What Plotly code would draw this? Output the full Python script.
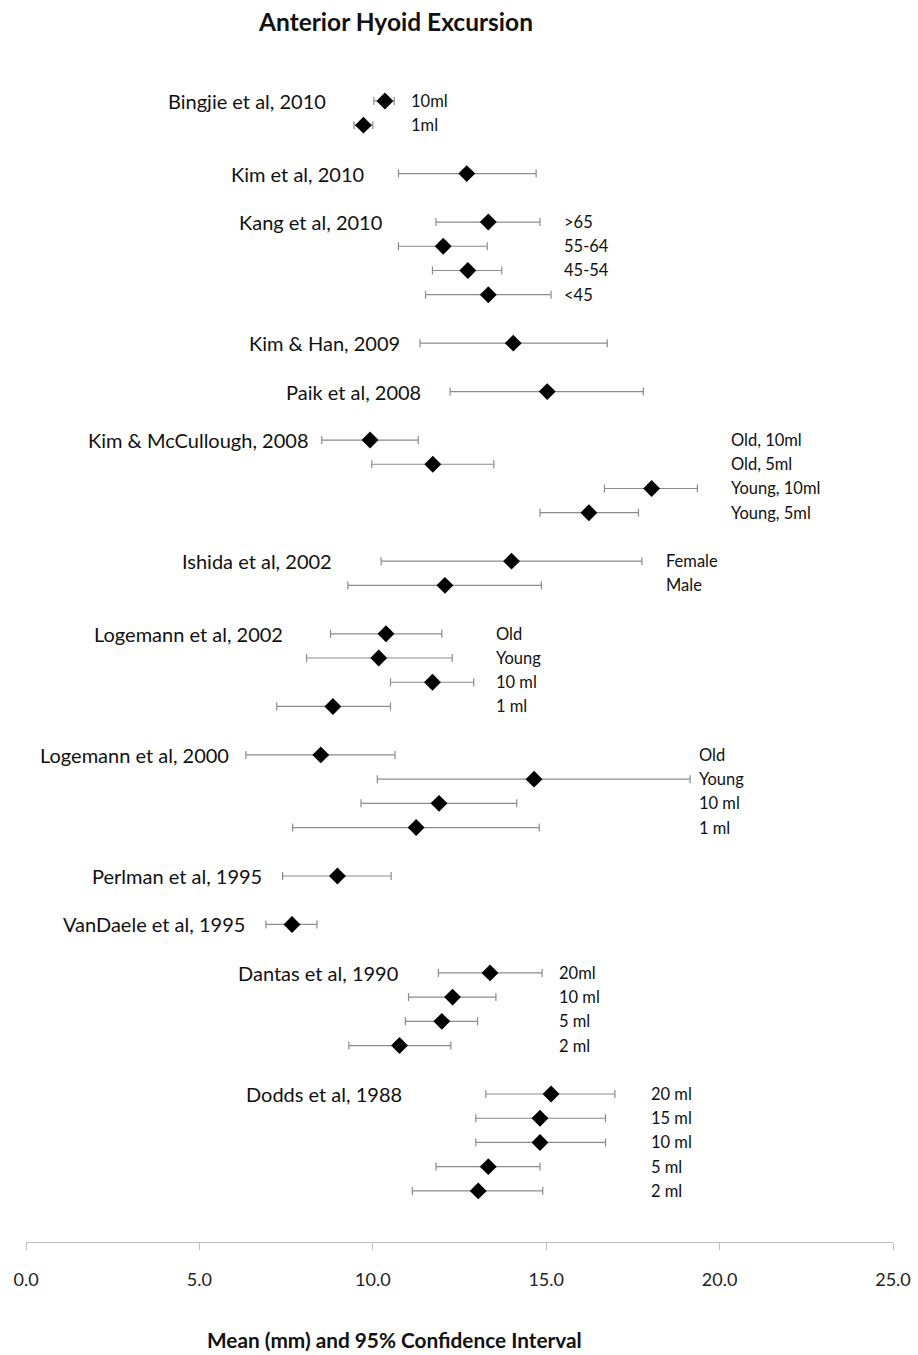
import plotly.graph_objects as go

# ---------------- data ----------------
studies = [
    "Bingjie et al, 2010", "Kim et al, 2010", "Kang et al, 2010", "Kim & Han, 2009",
    "Paik et al, 2008", "Kim & McCullough, 2008", "Ishida et al, 2002",
    "Logemann et al, 2002", "Logemann et al, 2000", "Perlman et al, 1995",
    "VanDaele et al, 1995", "Dantas et al, 1990", "Dodds et al, 1988",
]
study_of_row = [0, 0, 1, 2, 2, 2, 2, 3, 4, 5, 5, 5, 5, 6, 6, 7, 7, 7, 7,
                8, 8, 8, 8, 9, 10, 11, 11, 11, 11, 12, 12, 12, 12, 12]
row_labels = ["10ml", "1ml", "", ">65", "55-64", "45-54", "<45", "", "",
              "Old, 10ml", "Old, 5ml", "Young, 10ml", "Young, 5ml",
              "Female", "Male", "Old", "Young", "10 ml", "1 ml",
              "Old", "Young", "10 ml", "1 ml", "", "",
              "20ml", "10 ml", "5 ml", "2 ml",
              "20 ml", "15 ml", "10 ml", "5 ml", "2 ml"]
means = [10.35, 9.73, 12.71, 13.33, 12.03, 12.74, 13.33, 14.05, 15.03,
         9.92, 11.73, 18.04, 16.23, 14.00, 12.08, 10.38, 10.17, 11.72, 8.85,
         8.50, 14.65, 11.91, 11.25, 8.98, 7.67,
         13.38, 12.30, 11.99, 10.77, 15.14, 14.82, 14.82, 13.33, 13.04]
ci_low = [10.03, 9.46, 10.74, 11.82, 10.74, 11.72, 11.52, 11.36, 12.23,
          8.53, 9.97, 16.68, 14.82, 10.24, 9.28, 8.78, 8.09, 10.51, 7.23,
          6.34, 10.13, 9.66, 7.69, 7.40, 6.92,
          11.89, 11.03, 10.94, 9.31, 13.26, 12.97, 12.97, 11.82, 11.14]
ci_high = [10.62, 10.00, 14.71, 14.82, 13.30, 13.72, 15.14, 16.76, 17.80,
           11.31, 13.49, 19.36, 17.66, 17.76, 14.86, 11.99, 12.29, 12.91, 10.51,
           10.64, 19.15, 14.15, 14.80, 10.53, 8.39,
           14.88, 13.55, 13.02, 12.25, 16.98, 16.71, 16.71, 14.82, 14.90]
x_ticks = [0, 5, 10, 15, 20, 25]

# ---------------- layout constants ----------------
STUDY_LABEL_X = [8.71, 9.80, 10.33, 10.83, 11.44, 8.19, 8.87, 7.48, 5.92, 6.85, 6.37, 10.78, 10.90]
SUB_LABEL_X = [11.04, None, 15.45, None, None, 20.28, 18.39, 13.5, 19.35, None, None, 15.30, 17.97]
FONT = "Lato, Carlito, 'Open Sans', sans-serif"

# row positions: one row per entry, blank row between studies
ypos = []
p = -1
for i, s in enumerate(study_of_row):
    p += 2 if (i > 0 and s != study_of_row[i - 1]) else 1
    ypos.append(p)

err_plus = [h - m for h, m in zip(ci_high, means)]
err_minus = [m - l for m, l in zip(means, ci_low)]

fig = go.Figure()
fig.add_trace(go.Scatter(
    x=means, y=ypos, mode="markers",
    marker=dict(symbol="diamond", size=13, color="black"),
    error_x=dict(type="data", symmetric=False, array=err_plus, arrayminus=err_minus,
                 color="#8c8c8c", thickness=1.2, width=4),
    cliponaxis=False, showlegend=False, hoverinfo="x",
))

annotations = []
first_row = {}
for i, s in enumerate(study_of_row):
    first_row.setdefault(s, i)
for s, name in enumerate(studies):
    annotations.append(dict(x=STUDY_LABEL_X[s], y=ypos[first_row[s]], xref="x", yref="y",
                            text=name, showarrow=False, xanchor="right", yanchor="middle",
                            font=dict(family=FONT, size=20, color="#111111")))
for i, lab in enumerate(row_labels):
    if not lab:
        continue
    s = study_of_row[i]
    annotations.append(dict(x=SUB_LABEL_X[s], y=ypos[i], xref="x", yref="y",
                            text=lab, showarrow=False, xanchor="left", yanchor="middle",
                            font=dict(family=FONT, size=16.5, color="#111111")))
annotations.append(dict(x=0.4256, y=-0.0829, xref="paper", yref="paper",
                        text="<b>Mean (mm) and 95% Confidence Interval</b>", showarrow=False,
                        xanchor="center", yanchor="middle",
                        font=dict(family=FONT, size=20.8, color="#111111")))

fig.update_layout(
    width=918, height=1355,
    margin=dict(l=26, r=25, t=60, b=113, autoexpand=False),
    paper_bgcolor="white", plot_bgcolor="white",
    title=dict(text="<b>Anterior Hyoid Excursion</b>", x=396 / 918, xref="container",
               xanchor="center", y=1 - 22 / 1355, yanchor="middle",
               font=dict(family=FONT, size=24.5, color="#111111")),
    xaxis=dict(range=[0, 25], tickvals=x_ticks, ticktext=[f"{v:.1f}" for v in x_ticks],
               showline=True, linecolor="#bfbfbf", linewidth=1, ticks="outside",
               tickcolor="#bfbfbf", ticklen=7, showgrid=False, zeroline=False,
               ticklabelstandoff=14, automargin=False,
               tickfont=dict(family=FONT, size=18, color="#222222")),
    yaxis=dict(range=[47.11, -1.69], visible=False, showgrid=False, zeroline=False),
    annotations=annotations,
)

fig.write_html("out.html", config={"displayModeBar": False},
               post_script="document.body.style.margin='0';document.body.style.overflow='hidden';")
